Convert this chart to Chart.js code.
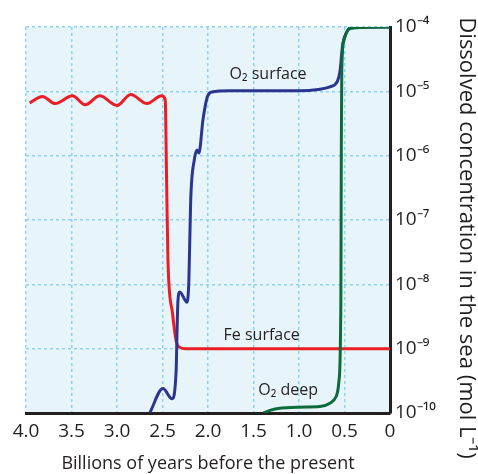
<!DOCTYPE html>
<html>
<head>
<meta charset="utf-8">
<script src="https://cdn.jsdelivr.net/npm/chart.js@4.4.1/dist/chart.umd.min.js"></script>
<style>
  html, body { margin: 0; padding: 0; background: #fff; }
  #wrap { width: 478px; height: 474px; }
</style>
</head>
<body>
<div id="wrap"><canvas id="chart" width="478" height="474"></canvas></div>
<script>
// Time in billions of years before present, concentration as log10(mol/L)
const feTime = [3.96, 3.82, 3.68, 3.49, 3.35, 3.19, 3.00, 2.85, 2.67, 2.51, 2.47, 2.455, 2.44, 2.39, 2.35, 2.32, 2.25, 1.5, 0.0];
const feExp  = [-5.18, -5.08, -5.19, -5.07, -5.21, -5.07, -5.22, -5.05, -5.19, -5.07, -5.13, -6.38, -7.63, -8.45, -8.88, -8.97, -9.0, -9.0, -9.0];

const o2SurfTime = [2.64, 2.495, 2.395, 2.35, 2.34, 2.33, 2.31, 2.23, 2.21, 2.19, 2.15, 2.12, 2.10, 2.055, 2.01, 1.96, 1.76, 0.99, 0.79, 0.66, 0.58, 0.55, 0.52, 0.48, 0.43, 0.0];
const o2SurfExp  = [-10.0, -9.62, -9.78, -9.34, -8.72, -8.25, -8.12, -8.28, -7.93, -6.69, -6.06, -5.91, -5.96, -5.44, -5.10, -5.01, -4.99, -4.99, -4.97, -4.93, -4.85, -4.69, -4.27, -4.09, -4.01, -4.0];

const o2DeepTime = [1.39, 1.32, 1.23, 0.99, 0.77, 0.66, 0.59, 0.56, 0.54, 0.535, 0.53, 0.505, 0.46, 0.38, 0.0];
const o2DeepExp  = [-10.0, -9.96, -9.93, -9.91, -9.90, -9.85, -9.74, -9.49, -8.25, -5.91, -4.66, -4.2, -4.04, -4.01, -4.0];

const yTickExps = [-10, -9, -8, -7, -6, -5, -4];

const labelText = ['O\u2082 surface', 'Fe surface', 'O\u2082 deep'];
const labelTime = [1.34, 1.41, 1.12];
const labelExp  = [-4.73, -8.80, -9.65];

const ink = '#231f20';
const supMap = { '-': '\u207b', '0': '\u2070', '1': '\u00b9', '2': '\u00b2', '3': '\u00b3', '4': '\u2074',
  '5': '\u2075', '6': '\u2076', '7': '\u2077', '8': '\u2078', '9': '\u2079' };

function toPoints(times, exps) {
  return times.map((t, i) => ({ x: t, y: Math.pow(10, exps[i]) }));
}

const plotBackground = {
  id: 'plotBackground',
  beforeDraw(chart) {
    const { ctx, chartArea: a } = chart;
    ctx.save();
    ctx.fillStyle = '#e7f5fb';
    ctx.fillRect(a.left, a.top, a.right - a.left, a.bottom - a.top);
    ctx.restore();
  }
};

const textLabels = {
  id: 'textLabels',
  afterDraw(chart) {
    const { ctx, scales } = chart;
    ctx.save();
    ctx.fillStyle = ink;
    ctx.font = '16px "Open Sans"';
    ctx.textAlign = 'center';
    ctx.textBaseline = 'middle';
    labelText.forEach((txt, i) => {
      ctx.fillText(txt, scales.x.getPixelForValue(labelTime[i]), scales.y.getPixelForValue(Math.pow(10, labelExp[i])));
    });
    // right-hand axis title, reading top to bottom
    ctx.translate(466, 238);
    ctx.rotate(Math.PI / 2);
    ctx.font = '22px "Open Sans"';
    ctx.fillText('Dissolved concentration in the sea (mol L\u207b\u00b9)', 0, 0);
    ctx.restore();
  }
};

const lineStyle = { fill: false, pointRadius: 0, borderWidth: 3, cubicInterpolationMode: 'monotone', tension: 0.4 };

new Chart(document.getElementById('chart'), {
  type: 'line',
  data: {
    datasets: [
      Object.assign({ label: 'O2 deep', data: toPoints(o2DeepTime, o2DeepExp), borderColor: '#0d6b3b' }, lineStyle),
      Object.assign({ label: 'O2 surface', data: toPoints(o2SurfTime, o2SurfExp), borderColor: '#2b3590' }, lineStyle),
      Object.assign({ label: 'Fe surface', data: toPoints(feTime, feExp), borderColor: '#ec1c24' }, lineStyle)
    ]
  },
  options: {
    responsive: false,
    animation: false,
    layout: { padding: { top: 27, left: 26, right: 0, bottom: 0 } },
    plugins: { legend: { display: false }, tooltip: { enabled: false } },
    scales: {
      x: {
        type: 'linear',
        min: 0,
        max: 4,
        reverse: true,
        afterFit(scale) { scale.height = 61; },
        grid: { color: '#8dd4f3', lineWidth: 1.5, drawTicks: false },
        border: { display: true, color: ink, width: 3, dash: [3, 3] },
        ticks: {
          stepSize: 0.5,
          padding: 7,
          maxRotation: 0,
          autoSkip: false,
          color: ink,
          font: { family: 'Open Sans', size: 19 },
          callback: (v) => v === 0 ? '0' : Number(v).toFixed(1)
        },
        title: {
          display: true,
          text: 'Billions of years before the present',
          color: ink,
          font: { family: 'Open Sans', size: 18, lineHeight: 1.1 },
          padding: { top: 0, bottom: 0 }
        }
      },
      y: {
        type: 'logarithmic',
        position: 'right',
        min: 1e-10,
        max: 1e-4,
        afterFit(scale) { scale.width = 88; },
        afterBuildTicks(scale) {
          scale.ticks = yTickExps.map(e => ({ value: Math.pow(10, e) }));
        },
        grid: { color: '#8dd4f3', lineWidth: 1.5, drawTicks: false },
        border: { display: true, color: ink, width: 3, dash: [3, 3] },
        ticks: {
          padding: 5,
          color: ink,
          font: { family: 'Open Sans', size: 19 },
          callback: (v) => '10' + String(Math.round(Math.log10(v))).split('').map(c => supMap[c]).join('')
        }
      }
    }
  },
  plugins: [plotBackground, textLabels]
});
</script>
</body>
</html>
